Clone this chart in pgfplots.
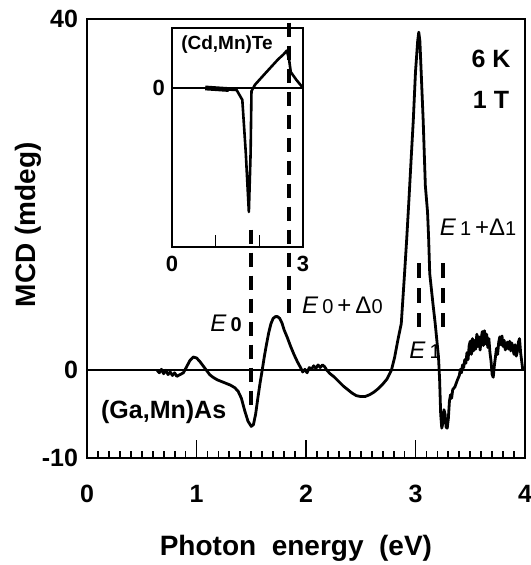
\documentclass[border=0pt]{standalone}
\usepackage{fontspec}
\setmainfont{Liberation Sans}
\usepackage{pgfplots}
\pgfplotsset{compat=1.18}
\newcommand\sub[1]{{\fontsize{10}{12}\selectfont #1}}
\begin{document}
\begin{tikzpicture}
\begin{axis}[
    scale only axis,
    width=219pt, height=219.5pt,
    xmin=0, xmax=4, ymin=-10, ymax=40,
    axis line style={line width=1.4pt},
    xtick={0,1,2,3,4}, xticklabels={0,1,2,3,4},
    minor x tick num=9,
    ytick={-10,0,40}, yticklabels={-10,0,40},
    tick align=inside,
    xtick pos=bottom, ytick pos=left,
    ytick style={draw=none},
    xtick style={line width=0.9pt, black},
    major tick length=9pt, minor tick length=3.5pt,
    ticklabel style={font=\bfseries\fontsize{12.5}{14}\selectfont},
    xticklabel style={yshift=-10pt},
    yticklabel style={xshift=-1pt},
    clip=false,
]
% zero line
\addplot[black, line width=1.1pt] coordinates {(0,0) (4,0)};
% MCD spectrum (Ga,Mn)As
\addplot[black, line width=1.4pt, line join=round] coordinates {
(0.64,0.0) (0.66,-0.3) (0.68,0.1) (0.70,-0.4) (0.72,0.0) (0.74,-0.5)
(0.76,-0.2) (0.78,-0.6) (0.80,-0.3) (0.82,-0.7) (0.85,-0.5) (0.88,-0.3)
(0.91,0.4) (0.94,1.1) (0.97,1.5) (1.00,1.4) (1.03,1.0) (1.06,0.5)
(1.09,0.0) (1.12,-0.5) (1.15,-0.8) (1.19,-1.1) (1.23,-1.3) (1.27,-1.5)
(1.31,-1.7) (1.35,-2.0) (1.38,-2.4) (1.41,-3.2) (1.44,-4.6) (1.47,-5.8)
(1.50,-6.4) (1.52,-6.2) (1.54,-5.0) (1.56,-3.2) (1.58,-1.5) (1.60,0.0)
(1.62,1.6) (1.64,3.0) (1.66,4.3) (1.68,5.3) (1.70,5.9) (1.72,6.1)
(1.74,6.1) (1.76,5.9) (1.78,5.4) (1.80,4.6) (1.83,3.7) (1.86,2.7)
(1.89,1.8) (1.92,1.0) (1.95,0.3) (1.97,-0.2) (1.99,0.1) (2.01,-0.3)
(2.03,0.3) (2.05,0.1) (2.07,0.5) (2.09,0.2) (2.11,0.6) (2.13,0.3)
(2.15,0.6) (2.17,0.4) (2.19,0.0) (2.22,-0.4) (2.26,-0.8) (2.30,-1.3)
(2.34,-1.8) (2.38,-2.2) (2.42,-2.6) (2.46,-2.9) (2.50,-3.0) (2.54,-3.0)
(2.58,-2.8) (2.62,-2.5) (2.66,-2.1) (2.70,-1.6) (2.74,-1.0) (2.78,0.0)
(2.81,1.5) (2.84,3.5) (2.87,5.3) (2.90,11.0) (2.92,15.0) (2.94,19.4)
(2.96,24.0) (2.98,28.5) (3.00,34.0) (3.02,37.5) (3.03,38.5) (3.04,37.5)
(3.06,31.5) (3.07,28.5) (3.09,21.0) (3.11,18.0) (3.12,15.0) (3.13,11.0)
(3.16,7.5) (3.18,5.3) (3.21,1.5) (3.22,-1.0) (3.23,-5.0) (3.24,-6.6)
(3.25,-6.0) (3.26,-4.5) (3.27,-5.0) (3.28,-6.5) (3.29,-6.6) (3.30,-5.5)
(3.31,-3.5) (3.32,-2.8) (3.33,-3.2) (3.34,-2.2) (3.36,-1.9) (3.38,-1.2)
(3.40,-0.6) (3.41,0.1) (3.42,-0.3) (3.43,0.6) (3.44,0.3) (3.45,1.2)
(3.46,0.8) (3.47,2.0) (3.48,1.2) (3.49,2.8) (3.50,3.3) (3.51,1.8)
(3.52,3.6) (3.53,2.2) (3.54,3.4) (3.55,2.4) (3.56,4.1) (3.57,2.7)
(3.58,3.8) (3.59,2.3) (3.60,3.6) (3.61,4.4) (3.62,2.8) (3.63,4.5)
(3.64,3.0) (3.65,4.1) (3.66,2.6) (3.67,3.6) (3.68,2.0) (3.69,1.0)
(3.70,-0.5) (3.71,-0.8) (3.72,0.5) (3.73,1.5) (3.74,2.5) (3.75,1.8)
(3.76,3.2) (3.77,3.8) (3.78,2.9) (3.79,3.9) (3.80,2.7) (3.81,3.4)
(3.82,2.3) (3.83,2.9) (3.84,3.2) (3.85,2.4) (3.86,3.3) (3.87,2.2)
(3.88,3.1) (3.89,2.4) (3.90,1.8) (3.91,2.9) (3.92,1.6) (3.93,2.1)
(3.94,3.2) (3.95,3.6) (3.96,2.0) (3.97,1.0) (3.98,0.0)
};
% critical-point markers
\addplot[black, line width=2pt, dash pattern=on 7pt off 4.5pt] coordinates {(1.50,16) (1.50,-4.5)};
\addplot[black, line width=2pt, dash pattern=on 7pt off 4.5pt] coordinates {(1.845,39.6) (1.845,6.0)};
\addplot[black, line width=2pt, dash pattern=on 7.5pt off 5pt] coordinates {(3.035,12.2) (3.035,4.9)};
\addplot[black, line width=2pt, dash pattern=on 7.5pt off 5pt] coordinates {(3.25,12.2) (3.25,4.9)};
% labels
\node[font=\fontsize{12}{14}\selectfont] at (axis cs:1.27,5.35) {\textit{E}\,\sub{\bfseries 0}};
\node[anchor=west, font=\fontsize{12}{14}\selectfont] at (axis cs:1.90,7.4) {\textit{E}\,\sub{0}\,+\,Δ\sub{0}};
\node[anchor=west, font=\fontsize{12}{14}\selectfont] at (axis cs:2.88,2.3) {\textit{E}\,\sub{1}};
\node[anchor=west, font=\fontsize{12}{14}\selectfont, inner sep=1pt] at (axis cs:3.20,16.3) {\textit{E}\,\sub{1}\,+Δ\sub{1}};
\node[font=\bfseries\fontsize{12.5}{14}\selectfont] at (axis cs:3.69,35.5) {6 K};
\node[font=\bfseries\fontsize{12.5}{14}\selectfont] at (axis cs:3.69,30.8) {1 T};
\node[font=\bfseries\fontsize{12.5}{14}\selectfont] at (axis cs:0.70,-4.8) {(Ga,Mn)As};
\node[rotate=90, font=\bfseries\fontsize{14}{16}\selectfont] at (rel axis cs:-0.135,0.531) {MCD (mdeg)};
\node[font=\bfseries\fontsize{14}{16}\selectfont] at (rel axis cs:0.477,-0.205) {Photon\ \ energy\ \ (eV)};
\end{axis}
% inset: (Cd,Mn)Te
\begin{axis}[
    at={(42.5pt,105.5pt)}, anchor=south west,
    scale only axis,
    width=65.5pt, height=109.5pt,
    xmin=0, xmax=3, ymin=-1, ymax=0.377,
    axis line style={line width=0.8pt},
    xtick={0,1,2,3}, xticklabels={0,,,3},
    ytick={0}, yticklabels={0},
    tick align=inside,
    xtick pos=bottom, ytick pos=left,
    ytick style={draw=none},
    xtick style={line width=0.7pt, black},
    major tick length=6pt,
    ticklabel style={font=\bfseries\fontsize{11}{12}\selectfont},
    xticklabel style={yshift=-1pt},
    clip=false,
]
\addplot[black, line width=0.6pt] coordinates {(0,0) (3,0)};
\addplot[black, line width=1.3pt, line join=round] coordinates {
(0.76,0.0) (1.00,-0.005) (1.30,-0.01) (1.48,-0.013) (1.61,-0.075)
(1.69,-0.41) (1.76,-0.78) (1.80,-0.41) (1.82,-0.02) (1.90,0.02)
(2.13,0.09) (2.43,0.18) (2.55,0.21) (2.63,0.235) (2.68,0.18)
(2.72,0.10) (2.85,0.05) (2.97,0.01) (3.0,0.0)
};
\addplot[black, line width=2.4pt] coordinates {(0.76,0.0) (1.30,-0.01)};
\node[font=\bfseries\fontsize{9.5}{11}\selectfont] at (rel axis cs:0.42,0.922) {(Cd,Mn)Te};
\end{axis}
\pgfresetboundingbox
\path[use as bounding box] (-43.5pt,-53.5pt) rectangle (221.5pt,229pt);
\end{tikzpicture}
\end{document}
